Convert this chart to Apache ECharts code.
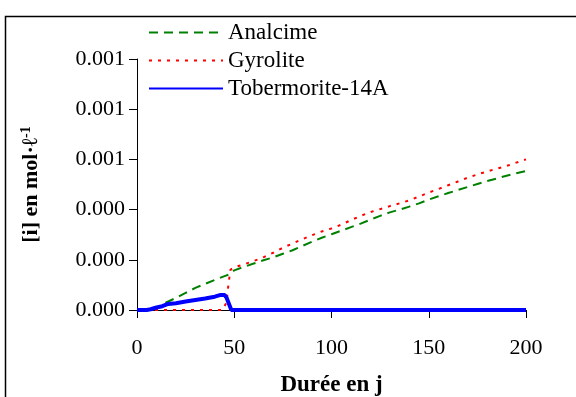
<!DOCTYPE html>
<html>
<head>
<meta charset="utf-8">
<script src="https://cdn.jsdelivr.net/npm/echarts@6/dist/echarts.min.js"></script>
<style>html,body{margin:0;padding:0;background:#fff}#c{width:576px;height:397px}</style>
</head>
<body>
<div id="c"></div>
<script>
const xTicks = [0, 50, 100, 150, 200];
const yTicks = [0, 0.0002, 0.0004, 0.0006, 0.0008, 0.001];

const analcimeDays = [0,5,10,15,20,25,30,35,40,45,48,50,55,60,65,70,75,80,85,90,95,100,105,110,115,120,125,130,135,140,145,150,155,160,165,170,175,180,185,190,195,200];
const analcimeVals = [0,0,0.000008,0.00003,0.000048,0.000068,0.000088,0.000104,0.00012,0.000135,0.000143,0.000158,0.000172,0.000185,0.000198,0.00021,0.000224,0.000238,0.000255,0.000272,0.000288,0.000302,0.000316,0.00033,0.000344,0.00036,0.000375,0.000389,0.0004,0.000412,0.000425,0.00044,0.000453,0.000466,0.000478,0.00049,0.000502,0.000514,0.000524,0.000535,0.000545,0.000554];

const gyroliteDays = [0,5,10,15,20,25,30,35,40,44,46,47,48,50,55,60,65,70,75,80,85,90,95,100,105,110,115,120,125,130,135,140,145,150,155,160,165,170,175,180,185,190,195,200];
const gyroliteVals = [0,0,0,0,0,0,0,0,0,0,0.00003,0.0001,0.00016,0.00017,0.000182,0.000195,0.00021,0.000228,0.000248,0.000265,0.000282,0.000298,0.000313,0.000325,0.00034,0.000358,0.000375,0.00039,0.000402,0.000414,0.000425,0.000437,0.000452,0.000468,0.000482,0.000497,0.000512,0.000527,0.00054,0.000552,0.000563,0.000574,0.000587,0.0006];

const tobermoriteDays = [0,5,7,10,13,16,20,25,30,35,40,43,45,46,48.5,50,100,150,200];
const tobermoriteVals = [0,0,0.000003,0.00001,0.000015,0.000024,0.000027,0.000034,0.00004,0.000046,0.000053,0.00006,0.00006,0.00005,0,0,0,0,0];

const zip = (a, b) => a.map((v, i) => [v, b[i]]);
const FONT = '"Liberation Serif","Times New Roman",serif';

const chart = echarts.init(document.getElementById('c'));
chart.setOption({
  animation: false,
  backgroundColor: '#fff',
  graphic: [{
    type: 'rect', left: 3, top: 14, shape: {x: 0, y: 0, width: 700, height: 500},
    style: {fill: 'none', stroke: '#000', lineWidth: 1.5}, silent: true, z: -1
  }],
  grid: {left: 137, right: 50, top: 59, bottom: 87, containLabel: false, outerBoundsMode: 'none'},
  legend: {
    orient: 'vertical', left: 143, top: 16, itemWidth: 74, itemHeight: 14, itemGap: 5,
    itemStyle: {opacity: 0},
    textStyle: {fontFamily: FONT, fontSize: 23, color: '#000', lineHeight: 23},
    data: ['Analcime', 'Gyrolite', 'Tobermorite-14A']
  },
  xAxis: {
    type: 'value', min: 0, max: 200, interval: 50,
    axisLine: {lineStyle: {color: '#000', width: 1}},
    axisTick: {show: true, inside: false, length: 8, lineStyle: {color: '#000'}},
    splitLine: {show: false},
    axisLabel: {fontFamily: FONT, fontSize: 22, color: '#000', margin: 27,
      formatter: v => xTicks.includes(v) ? String(v) : ''},
    name: 'Durée en j', nameLocation: 'middle', nameGap: 64,
    nameTextStyle: {fontFamily: FONT, fontSize: 23, fontWeight: 'bold', color: '#000'}
  },
  yAxis: {
    type: 'value', min: 0, max: 0.001, interval: 0.0002,
    axisLine: {show: true, lineStyle: {color: '#000', width: 1}},
    axisTick: {show: true, inside: false, length: 8, lineStyle: {color: '#000'}},
    splitLine: {show: false},
    axisLabel: {fontFamily: FONT, fontSize: 22, color: '#000', margin: 12,
      formatter: v => (yTicks.some(t => Math.abs(t - v) < 1e-9) ? v.toFixed(3) : '')},
    name: '{m|[i] en mol·ℓ}{s|-1}', nameLocation: 'middle', nameGap: 94, nameRotate: 90,
    nameTextStyle: {fontFamily: FONT, fontSize: 22, fontWeight: 'bold', color: '#000',
      rich: {
        m: {fontFamily: FONT, fontSize: 22, fontWeight: 'bold', color: '#000'},
        s: {fontFamily: FONT, fontSize: 14, fontWeight: 'bold', color: '#000', verticalAlign: 'top', padding: [0,0,10,0]}
      }}
  },
  series: [
    {name: 'Analcime', type: 'line', symbol: 'none', data: zip(analcimeDays, analcimeVals),
      lineStyle: {color: '#008000', width: 2, type: [9, 6]}, itemStyle: {color: '#008000'}, z: 2},
    {name: 'Gyrolite', type: 'line', symbol: 'none', data: zip(gyroliteDays, gyroliteVals),
      lineStyle: {color: '#ff0000', width: 2, type: [3, 6]}, itemStyle: {color: '#ff0000'}, z: 3},
    {name: 'Tobermorite-14A', type: 'line', symbol: 'none', data: zip(tobermoriteDays, tobermoriteVals),
      lineStyle: {color: '#0000ff', width: 4, type: 'solid'}, itemStyle: {color: '#0000ff'}, z: 4}
  ]
});
</script>
</body>
</html>
